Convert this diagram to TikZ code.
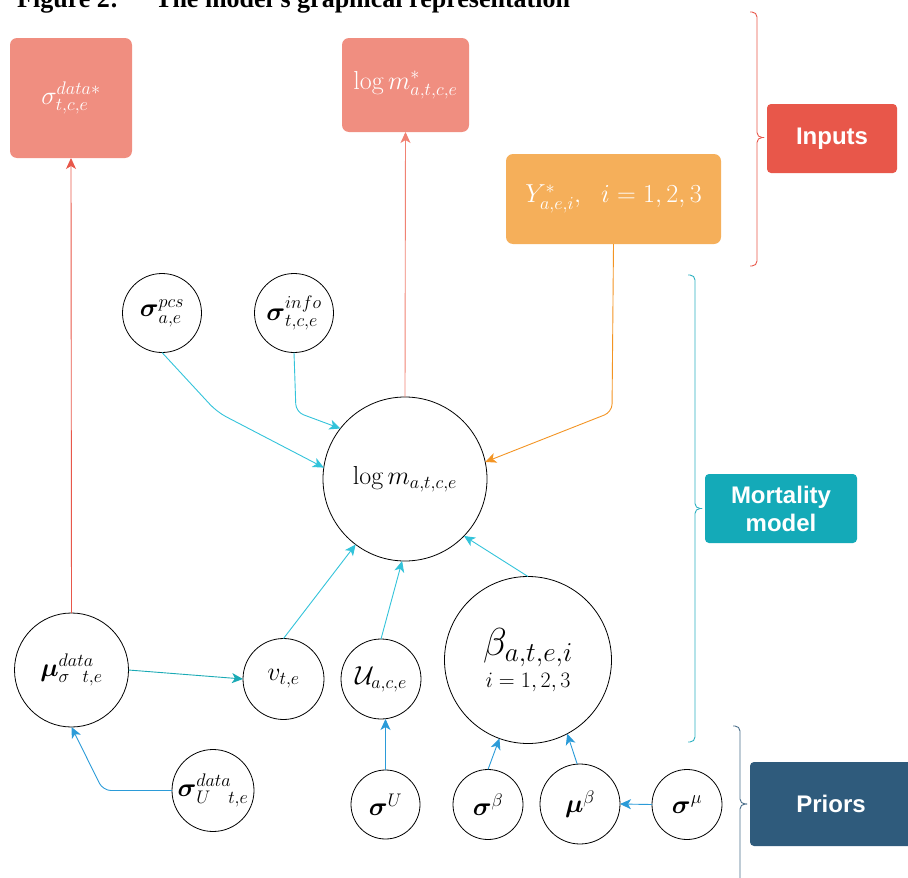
\RequirePackage{fix-cm}
\documentclass[tikz,border=0pt]{standalone}
\usepackage{amsmath}
\usepackage{fontspec}
\newfontfamily\titlefont{Liberation Serif}[Ligatures=TeX]
\newfontfamily\labelfont{Liberation Sans}
\usetikzlibrary{arrows.meta}
\definecolor{salmonbox}{RGB}{240,142,128}
\definecolor{orangebox}{RGB}{245,175,90}
\definecolor{inputsred}{RGB}{232,87,74}
\definecolor{mortteal}{RGB}{20,170,184}
\definecolor{priorsblue}{RGB}{47,91,124}
\definecolor{redline}{RGB}{232,87,74}
\definecolor{salmonline}{RGB}{240,130,115}
\definecolor{orangeline}{RGB}{243,148,35}
\definecolor{cyanline}{RGB}{51,195,218}
\definecolor{tealline}{RGB}{26,170,181}
\definecolor{blueline}{RGB}{43,155,216}
\definecolor{bracered}{RGB}{232,87,74}
\definecolor{braceteal}{RGB}{43,176,192}
\definecolor{braceblue}{RGB}{74,110,138}
\tikzset{
  var/.style={circle, draw=black, line width=0.8pt, inner sep=0pt, outer sep=0pt,
    font=\fontsize{26}{30}\selectfont},
  inbox/.style={rounded corners=7pt, fill=salmonbox, text=white, inner sep=0pt, outer sep=0pt,
    font=\fontsize{26}{30}\selectfont},
  grp/.style={rounded corners=4pt, text=white, inner sep=0pt,
    font=\labelfont\bfseries\fontsize{24}{28}\selectfont},
  conn/.style={line width=0.9pt, -{Stealth[length=11pt,width=10pt,inset=3pt]}},
  redarrow/.style={conn, draw=redline},
  salmonarrow/.style={conn, draw=salmonline},
  orangearrow/.style={conn, draw=orangeline},
  cyanarrow/.style={conn, draw=cyanline},
  tealarrow/.style={conn, draw=tealline},
  bluearrow/.style={conn, draw=blueline},
  bracestyle/.style={line width=0.9pt, rounded corners=5pt}
}
\begin{document}
\begin{tikzpicture}[x=1pt,y=-1pt]
\useasboundingbox (0,0) rectangle (908,878);
% title (cut at the top)
\node[anchor=base west, inner sep=0pt, font=\titlefont\bfseries\fontsize{26}{30}\selectfont] (figlab) at (17,7) {Figure 2:};
\node[anchor=base west, inner sep=0pt, font=\titlefont\bfseries\fontsize{26}{30}\selectfont] (figtitle) at (155,7) {The model's graphical representation};
% input boxes
\node[inbox, minimum width=122pt, minimum height=120pt] (sdstar) at (71,98) {$\sigma^{data*}_{t,c,e}$};
\node[inbox, minimum width=127pt, minimum height=94pt] (lmstar) at (405.5,85) {$\log m^*_{a,t,c,e}$};
\node[inbox, fill=orangebox, minimum width=215pt, minimum height=90pt] (Y) at (613.5,199) {$Y^*_{a,e,i},\ \ i=1,2,3$};
% group labels
\node[grp, fill=inputsred, minimum width=130pt, minimum height=69pt] (inputs) at (832,138.5) {Inputs};
\node[grp, fill=mortteal, minimum width=152pt, minimum height=69pt, align=center] (mort) at (781,508.5) {Mortality\\[0pt]model};
\node[grp, fill=priorsblue, minimum width=162pt, minimum height=84pt] (priors) at (831,804) {Priors};
% variables
\node[var, minimum size=79pt] (pcs) at (162,313) {$\boldsymbol{\sigma}^{pcs}_{a,e}$};
\node[var, minimum size=79pt] (info) at (294,313) {$\boldsymbol{\sigma}^{info}_{t,c,e}$};
\node[var, minimum size=164pt] (logm) at (405,479) {$\log m_{a,t,c,e}$};
\node[var, minimum size=114pt] (mu) at (71.5,670) {$\boldsymbol{\mu}^{data}_{\sigma\hspace{13pt}t,e}$};
\node[var, minimum size=81pt] (v) at (283.5,679) {$v_{t,e}$};
\node[var, minimum size=80pt] (U) at (381,679) {$\mathcal{U}_{a,c,e}$};
\node[var, minimum size=167pt, align=center] (beta) at (528,660) {\fontsize{39}{42}\selectfont$\beta_{a,t,e,i}$\\[2pt]\fontsize{22}{26}\selectfont$i=1,2,3$};
\node[var, minimum size=82pt] (sUd) at (213,790.5) {$\boldsymbol{\sigma}^{data}_{U\hspace{18pt}t,e}$};
\node[var, minimum size=69pt] (sU) at (385.5,804.5) {$\boldsymbol{\sigma}^{U}$};
\node[var, minimum size=70pt] (sb) at (488,804.5) {$\boldsymbol{\sigma}^{\beta}$};
\node[var, minimum size=80pt] (mub) at (580,804) {$\boldsymbol{\mu}^{\beta}$};
\node[var, minimum size=70pt] (smu) at (687,804.5) {$\boldsymbol{\sigma}^{\mu}$};
% connectors
\draw[redarrow] (mu.north) -- (sdstar.south);
\draw[salmonarrow] (logm.north) -- (lmstar.south);
\coordinate (ybend) at (612,412);
\draw[orangearrow, rounded corners=8pt] (Y.south) -- (ybend) -- (logm.12);
\coordinate (pbend) at (217,412);
\draw[cyanarrow, rounded corners=10pt] (pcs.south) -- (pbend) -- (logm.172);
\coordinate (ibend) at (296,412);
\draw[cyanarrow, rounded corners=8pt] (info.south) -- (ibend) -- (logm.142);
\draw[cyanarrow] (v.north) -- (logm.233);
\draw[cyanarrow] (U.north) -- (logm.268);
\draw[cyanarrow] (beta.north) -- (logm.316);
\draw[tealarrow] (mu.east) -- (v.west);
\coordinate (sbend) at (103,790.5);
\draw[bluearrow, rounded corners=8pt] (sUd.west) -- (sbend) -- (mu.south);
\draw[bluearrow] (sU.north) -- (sU.north |- U.south);
\draw[bluearrow] (sb.north) -- (beta.250);
\draw[bluearrow] (mub.94) -- (beta.298);
\draw[bluearrow] (smu.west) -- (mub.east);
% braces
\draw[bracestyle, draw=bracered] (750,12) -- (757,12) -- (757,137.5) -- (764,137.5);
\draw[bracestyle, draw=bracered] (764,137.5) -- (757,137.5) -- (757,266) -- (750,266);
\draw[bracestyle, draw=braceteal] (688,275) -- (695,275) -- (695,508.5) -- (702,508.5);
\draw[bracestyle, draw=braceteal] (702,508.5) -- (695,508.5) -- (695,742) -- (688,742);
\draw[bracestyle, draw=braceblue] (733,726) -- (740,726) -- (740,804) -- (747,804);
\draw[bracestyle, draw=braceblue] (747,804) -- (740,804) -- (740,890);
\end{tikzpicture}
\end{document}
